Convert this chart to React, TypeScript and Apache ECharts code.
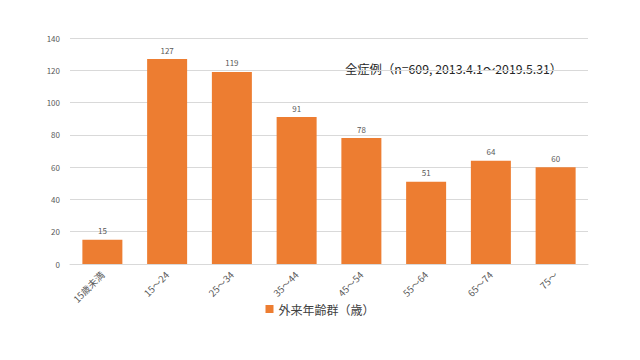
import React, { useEffect, useRef } from "react";
import * as echarts from "echarts";

const categories = ["15歳未満", "15～24", "25～34", "35～44", "45～54", "55～64", "65～74", "75～"];
const values = [15, 127, 119, 91, 78, 51, 64, 60];
const seriesName = "外来年齢群（歳）";
const note = "全症例（n=609, 2013.4.1～2019.5.31）";

export default function App() {
  const ref = useRef<HTMLDivElement>(null);
  useEffect(() => {
    const chart = echarts.init(ref.current!, null, { renderer: "svg" });
    const font = "'Noto Sans CJK JP', 'Noto Sans', sans-serif";
    chart.setOption({
      animation: false,
      textStyle: { fontFamily: font },
      grid: { left: 70, right: 52, top: 38, bottom: 96 },
      xAxis: {
        type: "category",
        data: categories,
        axisLine: { lineStyle: { color: "#d9d9d9" } },
        axisTick: { show: false },
        axisLabel: { rotate: 45, color: "#595959", fontSize: 9.5, margin: 9, fontFamily: font },
      },
      yAxis: {
        type: "value",
        min: 0,
        max: 140,
        interval: 20,
        axisLine: { show: false },
        axisTick: { show: false },
        splitLine: { lineStyle: { color: "#d9d9d9" } },
        axisLabel: { color: "#595959", fontSize: 8, margin: 10, fontFamily: font },
      },
      legend: {
        data: [seriesName],
        bottom: 40,
        left: "center",
        itemWidth: 8,
        itemHeight: 8,
        icon: "rect",
        itemGap: 4,
        textStyle: { color: "#404040", fontSize: 12, fontFamily: font },
      },
      graphic: [
        {
          type: "text",
          left: 345,
          top: 63,
          style: { text: note, fill: "#262626", fontSize: 12.3, fontFamily: font },
        },
      ],
      series: [
        {
          name: seriesName,
          type: "bar",
          data: values,
          barWidth: 40,
          itemStyle: { color: "#ED7D31" },
          label: { show: true, position: "top", color: "#595959", fontSize: 8, distance: 5, fontFamily: font },
        },
      ],
    });
    return () => chart.dispose();
  }, []);
  return <div ref={ref} style={{ width: 640, height: 360, position: "absolute", left: 0, top: 0 }} />;
}
